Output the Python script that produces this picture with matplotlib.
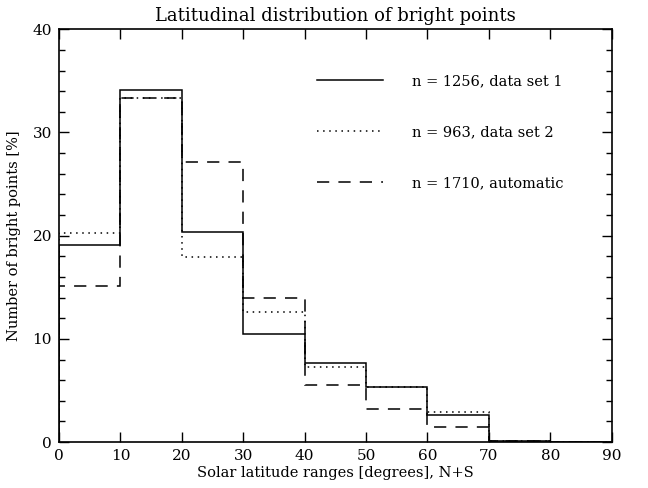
import matplotlib
matplotlib.use("Agg")
from matplotlib import pyplot as plt
from matplotlib.ticker import MultipleLocator
import numpy as np

# latitude bins (degrees) and percentages per bin
edges = [0, 10, 20, 30, 40, 50, 60, 70, 80, 90]
set1 = [19.1, 34.1, 20.4, 10.5, 7.7, 5.35, 2.6, 0.1, 0.0]
set2 = [20.3, 33.3, 17.9, 12.6, 7.3, 5.3, 2.9, 0.1, 0.0]
auto = [15.15, 33.3, 27.1, 14.0, 5.5, 3.25, 1.5, 0.1, 0.0]
labels = ["n = 1256, data set 1", "n = 963, data set 2", "n = 1710, automatic"]

plt.rcParams['font.family'] = ['DejaVu Serif']

fig = plt.figure(figsize=(6.48, 4.88), dpi=100)
ax = fig.add_axes([0.091, 0.094, 0.853, 0.846])

lw = 1.1
ax.stairs(set1, edges, color="black", lw=lw, linestyle="-", label=labels[0])
ax.stairs(set2, edges, color="black", lw=lw, linestyle=(0, (1, 3)), label=labels[1])
ax.stairs(auto, edges, color="black", lw=lw, linestyle=(0, (8, 6)), label=labels[2])

ax.set_xlim(0, 90)
ax.set_ylim(0, 40)
ax.xaxis.set_major_locator(MultipleLocator(10))
ax.yaxis.set_major_locator(MultipleLocator(10))
ax.yaxis.set_minor_locator(MultipleLocator(2))
ax.tick_params(which="both", direction="in", top=True, right=True, labelsize=11, width=1)
ax.tick_params(which="major", length=7, pad=5)
ax.tick_params(which="minor", length=4)
for s in ax.spines.values():
    s.set_linewidth(1.2)

ax.set_title("Latitudinal distribution of bright points", fontsize=13, pad=6)
ax.set_xlabel("Solar latitude ranges [degrees], N+S", fontsize=10.5, labelpad=2)
ax.set_ylabel("Number of bright points [%]", fontsize=10.5, labelpad=8)

ax.legend(loc="upper left", bbox_to_anchor=(0.443, 0.923), frameon=False,
          fontsize=10.5, handlelength=4.5, handletextpad=2.0, labelspacing=2.55)

fig.savefig("out.png", dpi=100)
